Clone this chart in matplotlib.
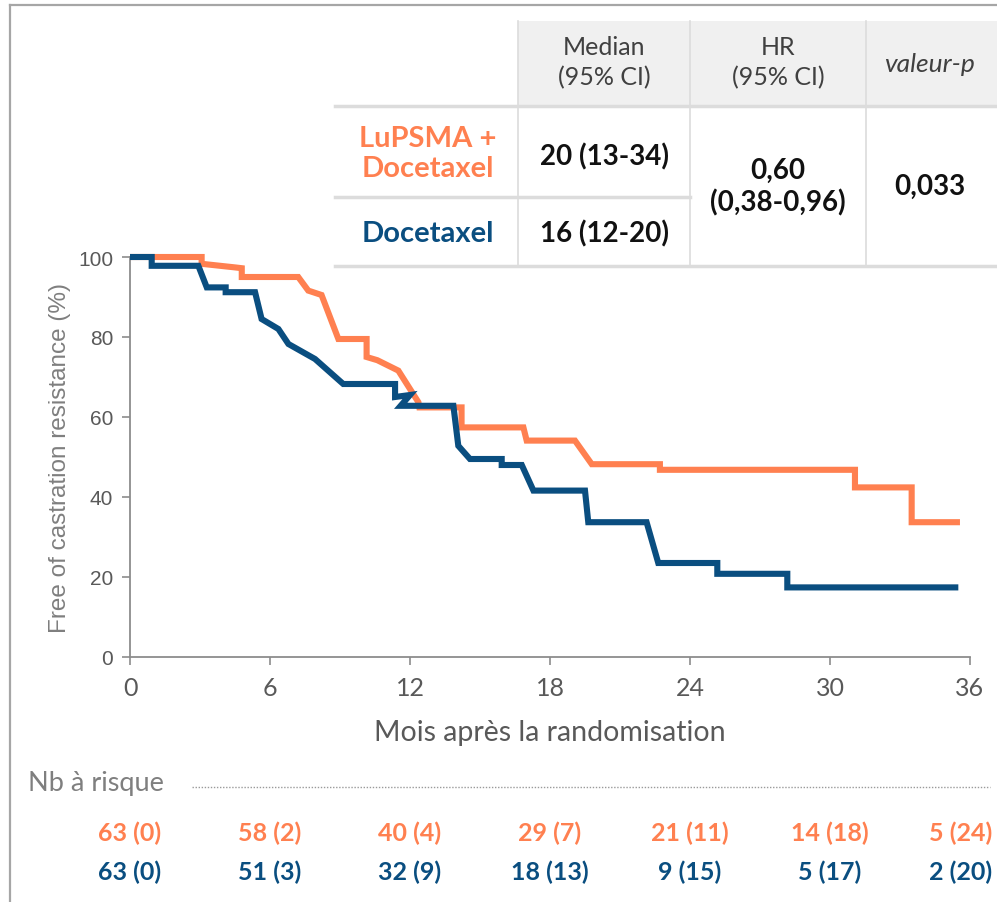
import matplotlib
matplotlib.use("Agg")
from matplotlib import pyplot as plt
from matplotlib.transforms import blended_transform_factory
from matplotlib.lines import Line2D
from matplotlib.patches import Rectangle

# Kaplan-Meier style curves (months, % free of castration resistance)
lu_t = [0, 3.07, 3.07, 4.5, 4.79, 4.79, 7.21, 7.64, 8.21, 8.93, 10.14, 10.14,
        10.6, 11.5, 12.36, 12.4, 14.21, 14.21, 16.86, 17.0, 19.07, 19.79,
        22.71, 22.71, 31.07, 31.07, 33.5, 33.5, 35.57]
lu_s = [100, 100, 98.3, 97.4, 97.2, 95, 95, 91.6, 90.5, 79.5, 79.5, 75,
        74.2, 71.6, 63.7, 62.4, 62.4, 57.4, 57.4, 54.1, 54.1, 48.2,
        48.2, 46.8, 46.8, 42.4, 42.4, 33.7, 33.7]

doc_t = [0, 0.93, 0.93, 2.93, 3.29, 4.1, 4.1, 5.36, 5.64, 6.36, 6.79, 7.93,
         9.14, 11.36, 11.36, 12.0, 11.6, 13.86, 14.07, 14.57, 15.93, 15.93,
         16.79, 17.29, 19.5, 19.64, 22.14, 22.64, 25.17, 25.17, 28.17, 28.17,
         35.5]
doc_s = [100, 100, 97.8, 97.8, 92.4, 92.4, 91.2, 91.2, 84.5, 82, 78.25, 74.5,
         68.25, 68.25, 65, 65.5, 62.8, 62.8, 52.8, 49.5, 49.5, 48,
         48, 41.6, 41.6, 33.7, 33.7, 23.5, 23.5, 20.8, 20.8, 17.4,
         17.4]

x_ticks = [0, 6, 12, 18, 24, 30, 36]
y_ticks = [0, 20, 40, 60, 80, 100]

risk_lu = [63, 58, 40, 29, 21, 14, 5]
cens_lu = [0, 2, 4, 7, 11, 18, 24]
risk_doc = [63, 51, 32, 18, 9, 5, 2]
cens_doc = [0, 3, 9, 13, 15, 17, 20]

ORANGE = "#FF8050"
BLUE = "#0A4E80"
GRAY = "#595959"

W, H = 997, 903


def fx(px):
    return px / W


def fy(py):
    return 1 - py / H


fig = plt.figure(figsize=(W / 100, H / 100), dpi=100)
plt.rcParams["font.family"] = ["Lato", "DejaVu Sans"]

# outer frame (left + top)
fig.add_artist(Line2D([fx(10), fx(10)], [fy(6), 0], color="#a6a6a6", lw=1.6))
fig.add_artist(Line2D([fx(10), 1], [fy(6), fy(6)], color="#a6a6a6", lw=1.6))

ax = fig.add_axes([fx(130), fy(658), fx(970) - fx(130), fy(258) - fy(658)])
ax.plot(doc_t, doc_s, color=BLUE, lw=4.4, solid_joinstyle="miter",
        solid_capstyle="butt", clip_on=False, zorder=4)
ax.plot(lu_t, lu_s, color=ORANGE, lw=4.4, solid_joinstyle="miter",
        solid_capstyle="butt", clip_on=False, zorder=3)
ax.set_xlim(0, 36)
ax.set_ylim(0, 100)
ax.set_xticks(x_ticks)
ax.set_yticks(y_ticks)
for s in ["top", "right"]:
    ax.spines[s].set_visible(False)
for s in ["left", "bottom"]:
    ax.spines[s].set_color("#8c8c8c")
    ax.spines[s].set_linewidth(1.3)
ax.tick_params(axis="both", colors="#8c8c8c", length=6, width=1.2,
               labelcolor=GRAY)
ax.tick_params(axis="x", labelsize=18, pad=8)
ax.tick_params(axis="y", labelsize=15, pad=6)
for lab in ax.get_yticklabels():
    lab.set_family("Liberation Sans")
ax.set_ylabel("Free of castration resistance (%)", fontsize=17.5,
              color="#7f7f7f", family="Liberation Sans", labelpad=5)
ax.set_xlabel("Mois après la randomisation", fontsize=20.5, color=GRAY,
              labelpad=14)

# number at risk
fig.text(fx(28), fy(784), "Nb à risque", fontsize=19.5, color="#7f7f7f",
         va="center", ha="left")
fig.add_artist(Line2D([fx(192), fx(990)], [fy(788), fy(788)], color="#9a9a9a",
                      lw=1.0, ls=(0, (1, 1.2))))
trans = blended_transform_factory(ax.transData, fig.transFigure)
for row_y, risks, cens, col in [(833, risk_lu, cens_lu, ORANGE),
                                (872, risk_doc, cens_doc, BLUE)]:
    for i, (t, n, c) in enumerate(zip(x_ticks, risks, cens)):
        if i == len(x_ticks) - 1:
            # last column sits against the right edge
            fig.text(fx(992), fy(row_y), f"{n} ({c})", ha="right",
                     va="center", fontsize=18, fontweight="bold", color=col)
        else:
            ax.text(t, fy(row_y), f"{n} ({c})", transform=trans,
                    ha="center", va="center", fontsize=18,
                    fontweight="bold", color=col, clip_on=False)

# summary table
fig.add_artist(Rectangle((fx(335), fy(267)), fx(997) - fx(335),
                         fy(107) - fy(267), facecolor="white",
                         edgecolor="none", zorder=5))
fig.add_artist(Rectangle((fx(518), fy(107)), fx(997) - fx(518),
                         fy(22) - fy(107), facecolor="#f0f0f0",
                         edgecolor="none", zorder=5))
line_kw = dict(color="#dcdcdc", zorder=6)
fig.add_artist(Line2D([fx(335), 1], [fy(107), fy(107)], lw=2.5, **line_kw))
fig.add_artist(Line2D([fx(335), 1], [fy(267), fy(267)], lw=2.5, **line_kw))
fig.add_artist(Line2D([fx(335), fx(690)], [fy(198), fy(198)], lw=2.5,
                      **line_kw))
for xv in [518, 690, 866]:
    fig.add_artist(Line2D([fx(xv), fx(xv)], [fy(22), fy(267)], lw=1.2,
                          **line_kw))

txt_kw = dict(ha="center", va="center", zorder=7)
fig.text(fx(604), fy(63), "Median\n(95% CI)", fontsize=18, color="#404040",
         linespacing=1.35, **txt_kw)
fig.text(fx(778), fy(63), "HR\n(95% CI)", fontsize=18, color="#404040",
         linespacing=1.35, **txt_kw)
fig.text(fx(930), fy(64), "valeur-p", fontsize=19, color="#404040",
         style="italic", **txt_kw)
fig.text(fx(428), fy(154), "LuPSMA +\nDocetaxel", fontsize=21,
         fontweight="bold", color=ORANGE, linespacing=1.2, **txt_kw)
fig.text(fx(428), fy(234), "Docetaxel", fontsize=21, fontweight="bold",
         color=BLUE, **txt_kw)
fig.text(fx(604), fy(157), "20 (13-34)", fontsize=20, fontweight="bold",
         color="#111111", **txt_kw)
fig.text(fx(604), fy(234), "16 (12-20)", fontsize=20, fontweight="bold",
         color="#111111", **txt_kw)
fig.text(fx(778), fy(187), "0,60\n(0,38-0,96)", fontsize=20,
         fontweight="bold", color="#111111", linespacing=1.25, **txt_kw)
fig.text(fx(930), fy(187), "0,033", fontsize=20, fontweight="bold",
         color="#111111", **txt_kw)

fig.savefig("out.png", dpi=100)
